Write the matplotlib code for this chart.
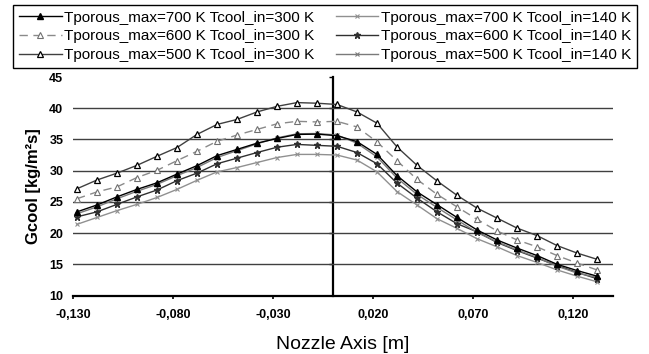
import numpy as np
import matplotlib.pyplot as plt
from matplotlib.ticker import FixedLocator, FuncFormatter

plt.rcParams['font.family'] = ['Liberation Sans', 'DejaVu Sans']
narrow = ['Liberation Sans Narrow', 'Liberation Sans', 'DejaVu Sans']

# ---- data ----
x = [-0.128, -0.118, -0.108, -0.098, -0.088, -0.078, -0.068, -0.058, -0.048,
     -0.038, -0.028, -0.018, -0.008, 0.002, 0.012, 0.022, 0.032, 0.042,
     0.052, 0.062, 0.072, 0.082, 0.092, 0.102, 0.112, 0.122, 0.132]

g700_300 = [23.4, 24.5, 25.8, 27.0, 28.05, 29.45, 30.8, 32.4, 33.4, 34.4, 35.15, 35.8, 35.85,
            35.6, 34.65, 32.6, 29.2, 26.6, 24.55, 22.5, 20.5, 18.9, 17.6, 16.4, 15.0, 14.0, 13.1]
g600_300 = [25.5, 26.6, 27.4, 28.9, 30.05, 31.6, 33.1, 34.7, 35.7, 36.6, 37.5, 37.9, 37.8,
            37.9, 37.0, 34.6, 31.6, 28.6, 26.2, 24.2, 22.2, 20.35, 18.9, 17.8, 16.4, 15.2, 14.1]
g500_300 = [27.1, 28.5, 29.6, 30.85, 32.3, 33.7, 35.8, 37.4, 38.2, 39.4, 40.3, 40.9, 40.8,
            40.6, 39.4, 37.6, 33.8, 30.85, 28.35, 26.05, 24.0, 22.4, 20.8, 19.6, 18.0, 16.8, 15.8]
g700_140 = [21.4, 22.5, 23.6, 24.6, 25.7, 27.0, 28.45, 29.8, 30.5, 31.3, 32.1, 32.6, 32.6,
            32.5, 31.7, 29.8, 26.65, 24.5, 22.3, 20.75, 19.1, 17.8, 16.4, 15.3, 14.1, 13.1, 12.2]
g600_140 = [22.6, 23.4, 24.6, 25.8, 26.9, 28.4, 29.6, 31.1, 32.0, 32.9, 33.75, 34.2, 34.05,
            33.9, 32.9, 31.1, 28.0, 25.6, 23.4, 21.5, 20.2, 18.5, 17.2, 16.0, 14.8, 13.7, 12.7]
g500_140 = [23.1, 24.2, 25.5, 26.7, 27.8, 29.2, 30.5, 32.1, 33.2, 34.3, 35.25, 35.9, 35.95,
            35.7, 34.4, 32.2, 28.8, 26.2, 24.1, 22.1, 20.1, 18.6, 17.3, 16.1, 14.7, 13.6, 12.9]

labels = ['Tporous_max=700 K Tcool_in=300 K',
          'Tporous_max=600 K Tcool_in=300 K',
          'Tporous_max=500 K Tcool_in=300 K',
          'Tporous_max=700 K Tcool_in=140 K',
          'Tporous_max=600 K Tcool_in=140 K',
          'Tporous_max=500 K Tcool_in=140 K']

xticks = [-0.130, -0.080, -0.030, 0.020, 0.070, 0.120]
yticks = [10, 15, 20, 25, 30, 35, 40, 45]

# ---- figure ----
fig = plt.figure(figsize=(6.49, 3.54), dpi=100)
ax = fig.add_axes([73/649, 1 - 295.5/354, 540/649, 218.5/354])

h1, = ax.plot(x, g700_300, '-', color='black', lw=1.0, marker='^', ms=4.5,
              mfc='black', mec='black', label=labels[0], zorder=5)
h2, = ax.plot(x, g600_300, '--', color='#8a8a8a', lw=1.0, dashes=(6, 4), marker='^', ms=4,
              mfc='white', mec='#707070', mew=0.8, label=labels[1], zorder=4)
h3, = ax.plot(x, g500_300, '-', color='#404040', lw=1.0, marker='^', ms=5,
              mfc='white', mec='black', mew=0.9, label=labels[2], zorder=4)
h4, = ax.plot(x, g700_140, '-', color='#909090', lw=1.0, marker='x', ms=3.5,
              mec='#909090', mew=0.8, label=labels[3], zorder=3)
h5, = ax.plot(x, g600_140, '-', color='#303030', lw=1.0, marker='*', ms=4.5,
              mfc='#303030', mec='#303030', label=labels[4], zorder=3)
h6, = ax.plot(x, g500_140, '-', color='#7a7a7a', lw=1.0, marker='x', ms=3.5,
              mec='#7a7a7a', mew=0.8, label=labels[5], zorder=3)

ax.set_xlim(-0.130, 0.140)
ax.set_ylim(10, 45)

# horizontal grid only
for yv in yticks[1:-1]:
    ax.axhline(yv, color='#404040', lw=1.0, zorder=1)

ax.xaxis.set_major_locator(FixedLocator(xticks))
ax.xaxis.set_major_formatter(FuncFormatter(lambda v, p: f'{v:.3f}'.replace('.', ',')))
ax.yaxis.set_major_locator(FixedLocator(yticks))
ax.tick_params(axis='x', direction='out', length=2.5, width=1.2, pad=7)
ax.tick_params(axis='y', length=0, pad=7)
for t in ax.get_xticklabels() + ax.get_yticklabels():
    t.set_fontweight('bold')
    t.set_family(narrow)
    t.set_fontsize(9)

for s in ['top', 'right', 'left']:
    ax.spines[s].set_visible(False)
ax.spines['bottom'].set_linewidth(1.6)

# vertical axis crossing at x = 0
sec = ax.secondary_yaxis((0 - (-0.130)) / 0.270)
sec.set_yticks(yticks[1:])
sec.tick_params(direction='out', length=3, width=1.0, labelleft=False, labelright=False)
sec.spines['left'].set_linewidth(1.6)

ax.set_xlabel('Nozzle Axis [m]', fontsize=14, labelpad=11)
ax.set_ylabel('Gcool [kg/m²s]', fontsize=12, fontweight='bold', labelpad=6)

leg = fig.legend(handles=[h1, h2, h3, h4, h5, h6], loc='upper left', ncol=2,
                 bbox_to_anchor=(13/649, 1 - 5/354), fontsize=11, frameon=True,
                 fancybox=False, edgecolor='black', framealpha=1, handlelength=2.8,
                 handletextpad=0.15, columnspacing=1.4, labelspacing=0.3,
                 borderpad=0.38, borderaxespad=0)
leg.get_frame().set_linewidth(1.0)

fig.savefig('out.png', dpi=100)
